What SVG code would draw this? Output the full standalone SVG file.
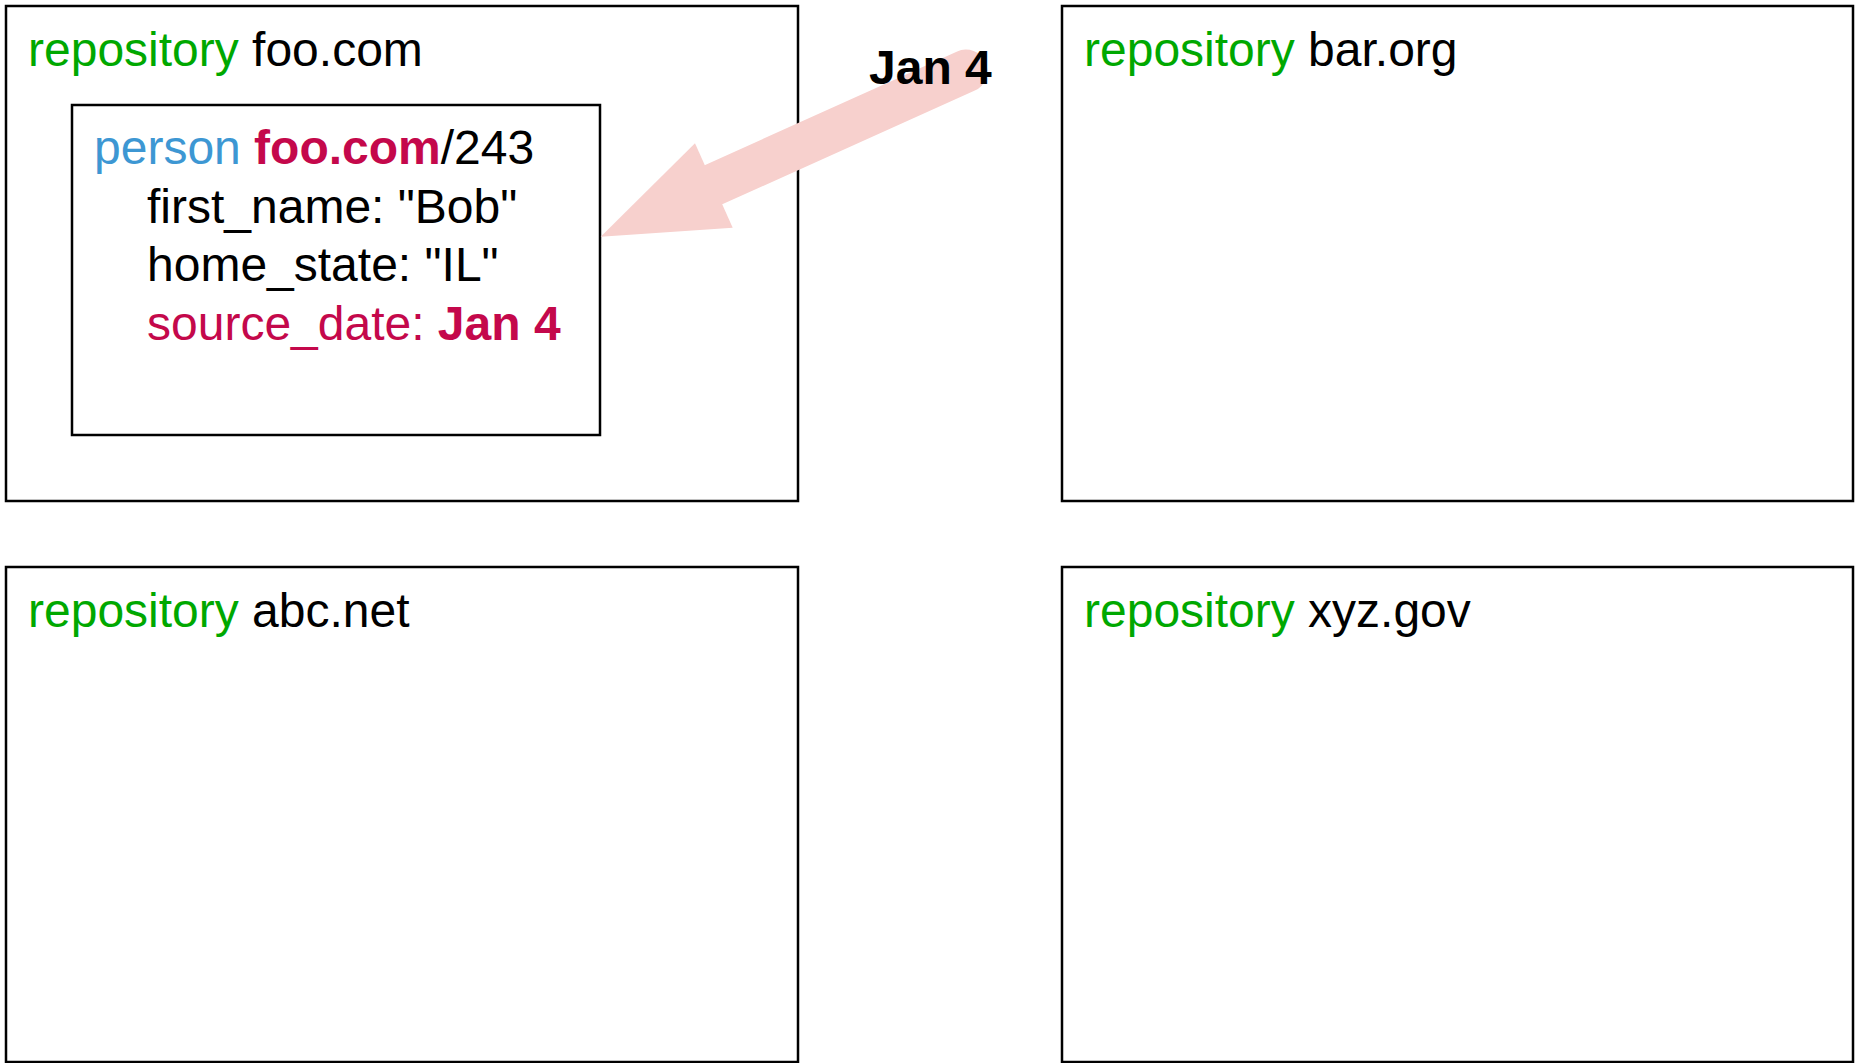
<svg xmlns="http://www.w3.org/2000/svg" width="1857" height="1063" viewBox="0 0 1857 1063">
<style>
.box{fill:#ffffff;stroke:#000000;stroke-width:2.5}
.t{font-family:"Liberation Sans",Arial,Helvetica,sans-serif;font-size:48px;fill:#000000}
.kw{fill:#00a800}
.ps{fill:#3d97d3}
.hl{fill:#c4084b}
.b{font-weight:bold}
.arrow{fill:#f7d0cd;stroke:none}
</style>
<rect width="1857" height="1063" fill="#ffffff"/>
<g id="repo-foo">
<rect class="box" x="6" y="6" width="792" height="495"/>
<text class="t" x="28" y="66"><tspan class="kw">repository</tspan> foo.com</text>
</g>
<g id="person-foo-243">
<rect class="box" x="72" y="105" width="528" height="330"/>
<text class="t" x="94" y="164"><tspan class="ps">person</tspan> <tspan class="hl b">foo.com</tspan>/243</text>
<text class="t" x="147" y="223">first_name: "Bob"</text>
<text class="t" x="147" y="281">home_state: "IL"</text>
<text class="t hl" x="147" y="340">source_date: <tspan class="b">Jan 4</tspan></text>
</g>
<g id="repo-bar">
<rect class="box" x="1062" y="6" width="791" height="495"/>
<text class="t" x="1084" y="66"><tspan class="kw">repository</tspan> bar.org</text>
</g>
<g id="repo-abc">
<rect class="box" x="6" y="567" width="792" height="495"/>
<text class="t" x="28" y="627"><tspan class="kw">repository</tspan> abc.net</text>
</g>
<g id="repo-xyz">
<rect class="box" x="1062" y="567" width="791" height="495"/>
<text class="t" x="1084" y="627"><tspan class="kw">repository</tspan> xyz.gov</text>
</g>
<g id="connectors">
<line x1="714" y1="184.5" x2="966" y2="71" stroke="#f7d0cd" stroke-width="43" stroke-linecap="round"/>
<polygon class="arrow" points="600.7,236.7 695,143.3 732.7,227.7"/>
<text class="t b" x="869" y="84">Jan 4</text>
</g>
</svg>
